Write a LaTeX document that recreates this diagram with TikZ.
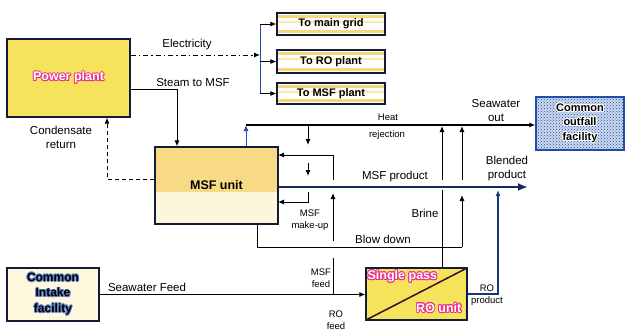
\documentclass[tikz,border=0pt]{standalone}
\usepackage{fontspec}
\setmainfont{Liberation Sans}
\usepackage[copies]{contour}
\usepackage{tikz}
\usetikzlibrary{arrows.meta,positioning,patterns}
\definecolor{plantyel}{HTML}{F4E35B}
\definecolor{msftop}{HTML}{F9DA84}
\definecolor{msfbot}{HTML}{FDF6DA}
\definecolor{intakeyel}{HTML}{FDF8DE}
\definecolor{stripeyel}{HTML}{F7D877}
\definecolor{edge}{HTML}{141A3A}
\definecolor{flowblue}{HTML}{1F4FA8}
\definecolor{glowpink}{HTML}{E8308C}
\contourlength{0.9pt}
\contournumber{12}

\begin{document}
\begin{tikzpicture}[
  x=1pt, y=-1pt,
  font=\fontsize{11.5}{14}\selectfont,
  lbl/.style={align=center, inner sep=0pt},
  small/.style={lbl, font=\fontsize{9.5}{12}\selectfont},
  box/.style={draw=edge, line width=1.1pt, align=center, inner sep=2pt, font=\bfseries\fontsize{12.5}{15}\selectfont},
  stripebox/.style={box, fill=white, minimum width=108pt, font=\bfseries\fontsize{11}{13}\selectfont,
    path picture={
      \fill[stripeyel] ([yshift=-2pt]path picture bounding box.north west) rectangle ([yshift=-4.5pt]path picture bounding box.north east);
      \fill[stripeyel!60] ([yshift=-8pt]path picture bounding box.north west) rectangle ([yshift=-9.5pt]path picture bounding box.north east);
      \fill[stripeyel] ([yshift=2pt]path picture bounding box.south west) rectangle ([yshift=5pt]path picture bounding box.south east);
    }},
  glow/.style={inner sep=0pt, text=white, font=\bfseries\fontsize{12.5}{15}\selectfont},
  arr/.style={-{Latex[length=6pt,width=5pt]}, line width=1pt},
  flow/.style={line width=1pt},
  elec/.style={arr, dash pattern=on 5pt off 3pt on 1.5pt off 3pt},
  prod/.style={-{Latex[length=10pt,width=8pt]}, line width=2.6pt, draw=flowblue!55!black}
]
\useasboundingbox (0,0) rectangle (626,332);

\node[box, fill=plantyel, minimum width=123pt, minimum height=78pt, text=white] (plant) at (68.5,78) {\contour{glowpink}{Power plant}};
\node[stripebox, minimum height=22pt] (grid) at (331,24) {To main grid};
\node[stripebox, minimum height=23pt] (ropl) at (331,61.5) {To RO plant};
\node[stripebox, minimum height=21pt] (msfp) at (331,93.5) {To MSF plant};
\node[box, fill=msftop, minimum width=123pt, minimum height=77pt,
  path picture={\fill[msfbot] ([yshift=-6.5pt]path picture bounding box.west) rectangle (path picture bounding box.south east);}] (msf) at (216.5,185.5) {MSF unit};
\node[box, draw=flowblue, preaction={fill=flowblue!22}, pattern=crosshatch dots, pattern color=flowblue,
  minimum width=88pt, minimum height=53pt, font=\bfseries\fontsize{11}{14.5}\selectfont] (outfall) at (580,123.5) {\contour{white}{Common}\\\contour{white}{outfall}\\\contour{white}{facility}};
\node[box, fill=intakeyel, minimum width=92pt, minimum height=53pt, font=\bfseries\fontsize{12}{15.5}\selectfont] (intake) at (53,294.5) {\contour{flowblue!70}{Common}\\\contour{flowblue!70}{Intake}\\\contour{flowblue!70}{facility}};
\node[box, fill=plantyel, minimum width=101pt, minimum height=52pt,
  path picture={\draw[line width=1.5pt, black!75!glowpink] (path picture bounding box.south west) -- (path picture bounding box.north east);}] (ro) at (416.5,294) {};
\node[glow, anchor=north west] (ropass) at ([xshift=2pt,yshift=-3pt]ro.north west) {\contour{glowpink}{Single pass}};
\node[glow, anchor=south east] (rounit) at ([xshift=-6pt,yshift=7pt]ro.south east) {\contour{glowpink}{RO unit}};

\node[lbl] (elec) at (187,45) {Electricity};
\node[lbl] (steam) at (193,83) {Steam to MSF};
\node[lbl] (cond) at (61,137) {Condensate\\return};
\node[small] (heat) at (388,117) {Heat};
\node[small] (rej) at (387,135) {rejection};
\node[lbl] (swout) at (496,111) {Seawater\\out};
\node[lbl] (prodlbl) at (395,177) {MSF product};
\node[lbl] (blend) at (507,169) {Blended\\product};
\node[small] (mklbl) at (310,220) {MSF\\make-up};
\node[lbl] (brine) at (425,213) {Brine};
\node[lbl] (blow) at (383,239) {Blow down};
\node[lbl] (swfeed) at (147,287) {Seawater Feed};
\node[small] (msffeed) at (321,278) {MSF\\feed};
\node[small] (rofeed) at (336,320) {RO\\feed};
\node[small] (roprod) at (487,295) {RO\\product};

\coordinate (bus) at (260,55);
\coordinate (hr) at (246,125);
\coordinate (mk1) at (308,125);
\coordinate (mk2) at (308,145);
\coordinate (mk3) at (308,163);
\coordinate (mk4) at (308,176);
\coordinate (mk5) at (308,192);
\coordinate (mkin) at (278,202);
\coordinate (fd0) at (333,294);
\coordinate (fd1) at (333,258);
\coordinate (fd2) at (333,241);
\coordinate (fd3) at (333,193);
\coordinate (fd4) at (333,180);
\coordinate (fdin) at (278,155);
\coordinate (bdc) at (462,247);
\coordinate (bd1) at (462,195);
\coordinate (bd2) at (462,180);
\coordinate (bd3) at (462,126);
\coordinate (br1) at (442,190);
\coordinate (br2) at (442,180);
\coordinate (br3) at (442,126);
\coordinate (rp) at (498,190);
\coordinate (prodend) at (528,187);

\draw[elec] (plant.east |- bus) -- (bus);
\draw[flow, flowblue] (bus |- grid.west) -- (bus |- msfp.west);
\foreach \b in {grid,ropl,msfp}
  \draw[arr] (bus |- \b.west) -- (\b.west);
\draw[arr] ([yshift=-11pt]plant.east) -| ([xshift=-39.5pt]msf.north);
\draw[arr, dash pattern=on 4pt off 3pt] ([yshift=6.5pt]msf.west) -| ([xshift=38.5pt]plant.south);

\draw[arr, flowblue] (msf.north -| hr) -- (hr);
\draw[arr, line width=1.2pt] (hr) -- (outfall.west |- hr);

\draw[arr] (mk1) -- (mk2);
\draw[arr] (mk3) -- (mk4);
\draw[arr] (mk5) |- (mkin);

\draw[flow] (fd0) -- (fd1);
\draw[arr] (fd2) -- (fd3);
\draw[arr] (fd4) |- (fdin);

\draw[flow] ([xshift=40.5pt]msf.south) |- (bdc);
\draw[arr] (bdc) -- (bd1);
\draw[arr] (bd2) -- (bd3);

\draw[flow] ([xshift=25.5pt]ro.north) -- (br1);
\draw[arr] (br2) -- (br3);

\draw[arr, line width=1.6pt, draw=flowblue!70!black] (ro.east) -| (rp);
\draw[prod] (msf.east |- prodend) -- (prodend);
\draw[arr] (intake.east) -- (intake.east -| ro.west);
\end{tikzpicture}
\end{document}
